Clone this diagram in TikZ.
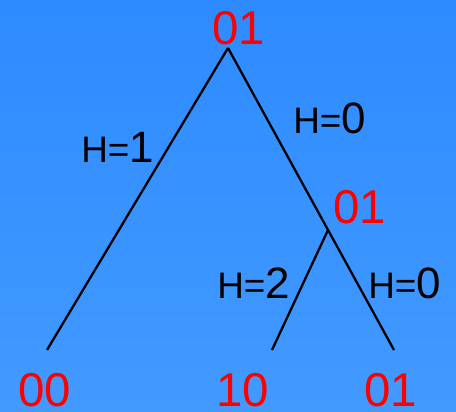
\documentclass[tikz,border=0pt]{standalone}
\usepackage{fontspec}
\setmainfont{Liberation Sans}
\usepackage{xcolor}
\definecolor{skytop}{HTML}{2E8BFF}
\definecolor{skybot}{HTML}{429AFF}
\definecolor{bitred}{HTML}{FF0000}
\usetikzlibrary{positioning}
\tikzset{
  bits/.style={text=bitred, font=\fontsize{27}{30}\selectfont, inner sep=0pt, anchor=base},
  hlab/.style={text=black, font=\fontsize{21}{24}\selectfont, inner sep=0pt, anchor=base west},
  branch/.style={black, line width=1.3pt},
}
\newcommand{\hval}[1]{H={\fontsize{25}{28}\selectfont #1}}

\begin{document}
\begin{tikzpicture}[x=0.02cm, y=-0.02cm]
  \shade[top color=skytop, bottom color=skybot] (0,0) rectangle (456,412);
  \useasboundingbox (0,0) rectangle (456,412);
  % tree vertices
  \coordinate (top) at (228,48);
  \coordinate (fork) at (328,230);
  \coordinate (lfa) at (47,350);
  \coordinate (lfb) at (272,350);
  \coordinate (lfc) at (394,350);
  % bit strings
  \node[bits] (rootbits) at (239,45) {01};
  \node[bits] (forkbits) at (360,223) {01};
  \node[bits] (bitsa) at (45,406) {00};
  \node[bits] (bitsb) at (243,406) {10};
  \node[bits] (bitsc) at (391,406) {01};
  % branches
  \draw[branch] (top) -- (lfa);
  \draw[branch] (top) -- (lfc);
  \draw[branch] (fork) -- (lfb);
  % distances
  \node[hlab] (ha) at (81,162) {\hval{1}};
  \node[hlab] (hb) at (293,133) {\hval{0}};
  \node[hlab] (hc) at (217,298) {\hval{2}};
  \node[hlab] (hd) at (368,298) {\hval{0}};
\end{tikzpicture}
\end{document}
